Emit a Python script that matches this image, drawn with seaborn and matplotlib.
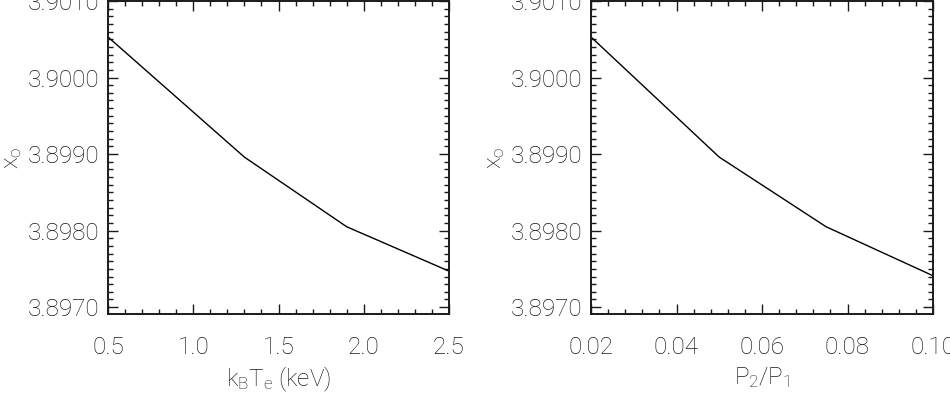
import matplotlib
matplotlib.use("Agg")
import matplotlib.pyplot as plt
import seaborn as sns
import pandas as pd
from matplotlib.ticker import MultipleLocator, FormatStrFormatter

# Data
kT = [0.5, 1.3, 1.9, 2.5]
x0_kT = [3.90053, 3.89896, 3.89805, 3.89747]
ratio = [0.02, 0.05, 0.075, 0.10]
x0_ratio = [3.90053, 3.89896, 3.89805, 3.89741]

xlabels = [r"k$_\mathrm{B}$T$_\mathrm{e}$ (keV)", r"P$_2$/P$_1$"]
ylabel = r"x$_\mathrm{o}$"

sns.set_theme(style="ticks")
plt.rcParams["font.family"] = ["Roboto", "DejaVu Sans"]
plt.rcParams["font.weight"] = "light"
plt.rcParams["mathtext.fontset"] = "custom"
plt.rcParams["mathtext.rm"] = "Roboto:light"
plt.rcParams["mathtext.it"] = "Roboto:light"

FS = 17.5
TC = "#1a1a1a"

fig = plt.figure(figsize=(9.5, 3.96), dpi=100)
ax1 = fig.add_axes([108/950, 82/396, 341/950, 313/396])
ax2 = fig.add_axes([591/950, 82/396, 342/950, 313/396])

df1 = pd.DataFrame({"x": kT, "y": x0_kT})
df2 = pd.DataFrame({"x": ratio, "y": x0_ratio})

sns.lineplot(data=df1, x="x", y="y", ax=ax1, color="black", lw=1.0)
sns.lineplot(data=df2, x="x", y="y", ax=ax2, color="black", lw=1.0)

ax1.set_xlim(0.5, 2.5)
ax2.set_xlim(0.02, 0.10)
ax1.xaxis.set_major_locator(MultipleLocator(0.5))
ax1.xaxis.set_minor_locator(MultipleLocator(0.1))
ax1.xaxis.set_major_formatter(FormatStrFormatter("%.1f"))
ax2.xaxis.set_major_locator(MultipleLocator(0.02))
ax2.xaxis.set_minor_locator(MultipleLocator(0.004))
ax2.xaxis.set_major_formatter(FormatStrFormatter("%.2f"))

for ax, xl in zip([ax1, ax2], xlabels):
    ax.set_ylim(3.89691, 3.90100)
    ax.yaxis.set_major_locator(MultipleLocator(0.001))
    ax.yaxis.set_minor_locator(MultipleLocator(0.0001))
    ax.yaxis.set_major_formatter(FormatStrFormatter("%.4f"))
    ax.tick_params(which="both", direction="in", top=True, right=True,
                   color=TC, width=1.0)
    ax.tick_params(which="major", length=7)
    ax.tick_params(which="minor", length=3.5)
    ax.tick_params(axis="x", which="both", pad=16, labelsize=FS, labelcolor=TC)
    ax.tick_params(axis="y", which="both", pad=6, labelsize=FS, labelcolor=TC)
    for s in ax.spines.values():
        s.set_linewidth(1.4)
        s.set_color(TC)
    ax.set_xlabel(xl, fontsize=FS, color=TC, labelpad=4, fontweight="light")
    ax.set_ylabel(ylabel, fontsize=FS, color=TC, labelpad=3, fontweight="light")
    for lab in ax.get_xticklabels() + ax.get_yticklabels():
        lab.set_fontweight("light")
    ax.set_facecolor("white")

fig.savefig("out.png", dpi=100, facecolor="white")
